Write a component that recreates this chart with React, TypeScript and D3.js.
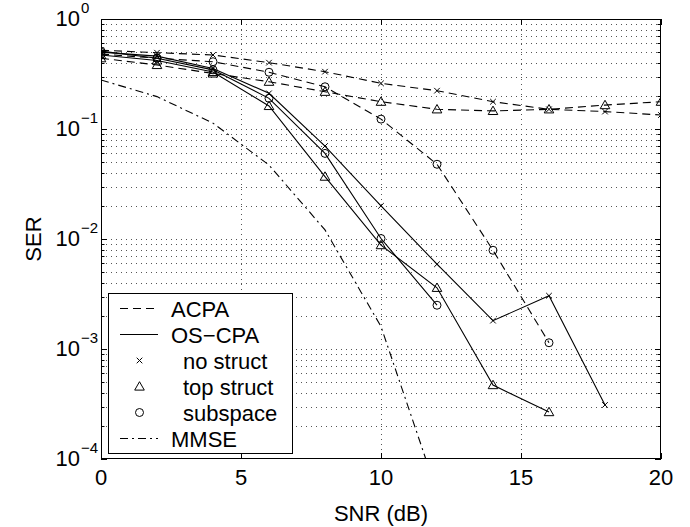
import React from 'react';
import * as d3 from 'd3';

// SNR grid (dB) used by all simulated curves
const snr = [0, 2, 4, 6, 8, 10, 12, 14, 16, 18, 20];

// ACPA (dashed)
const acpaNoStruct = [0.52, 0.494, 0.471, 0.401, 0.332, 0.26, 0.223, 0.177, 0.151, 0.144, 0.134];
const acpaTopStruct = [0.44, 0.382, 0.32, 0.269, 0.218, 0.177, 0.151, 0.146, 0.151, 0.165, 0.177];
const acpaSubspace = [0.48, 0.44, 0.409, 0.328, 0.242, 0.123, 0.0478, 0.0079, 0.00114];

// OS-CPA (solid)
const osNoStruct = [0.5, 0.46, 0.355, 0.211, 0.07, 0.02, 0.0059, 0.00181, 0.00305, 0.00031];
const osTopStruct = [0.47, 0.42, 0.33, 0.162, 0.0369, 0.0088, 0.0036, 0.00047, 0.000267];
const osSubspace = [0.51, 0.44, 0.345, 0.19, 0.06, 0.0101, 0.0025];

// MMSE bound (dash-dot)
const mmse = [0.279, 0.197, 0.113, 0.047, 0.0121, 0.0016, 0.00005];

const xTicks = [0, 5, 10, 15, 20];
const yExponents = [0, -1, -2, -3, -4];
const legendLabels = ['ACPA', 'OS\u2212CPA', 'no struct', 'top struct', 'subspace', 'MMSE'];

const W = 690;
const H = 527;
const margin = { top: 19, right: 29, bottom: 68, left: 101 };
const FONT = '"Liberation Sans", Arial, Helvetica, sans-serif';

type Marker = 'x' | 'tri' | 'circ';

const MarkerShape = ({ type, cx, cy }: { type: Marker; cx: number; cy: number }) => {
  if (type === 'x') {
    const s = 2.8;
    return (
      <path
        d={`M${cx - s},${cy - s}L${cx + s},${cy + s}M${cx - s},${cy + s}L${cx + s},${cy - s}`}
        stroke="#000"
        strokeWidth={1}
        fill="none"
      />
    );
  }
  if (type === 'tri') {
    const s = 4.8;
    return (
      <path
        d={`M${cx},${cy - s}L${cx + s},${cy + s * 0.75}L${cx - s},${cy + s * 0.75}Z`}
        stroke="#000"
        strokeWidth={1}
        fill="none"
      />
    );
  }
  return <circle cx={cx} cy={cy} r={4} stroke="#000" strokeWidth={1} fill="none" />;
};

const App: React.FC = () => {
  const iw = W - margin.left - margin.right;
  const ih = H - margin.top - margin.bottom;

  const x = d3.scaleLinear().domain([0, 20]).range([margin.left, margin.left + iw]);
  const y = d3.scaleLog().domain([1e-4, 1]).range([margin.top + ih, margin.top]);

  const line = d3
    .line<number>()
    .x((_, i) => x(snr[i]))
    .y((d) => y(d));

  const series: { data: number[]; dash: string | undefined; marker: Marker | null }[] = [
    { data: acpaNoStruct, dash: '8,5', marker: 'x' },
    { data: acpaTopStruct, dash: '8,5', marker: 'tri' },
    { data: acpaSubspace, dash: '8,5', marker: 'circ' },
    { data: osNoStruct, dash: undefined, marker: 'x' },
    { data: osTopStruct, dash: undefined, marker: 'tri' },
    { data: osSubspace, dash: undefined, marker: 'circ' },
    { data: mmse, dash: '8,4,2,4', marker: null },
  ];

  // minor log ticks (2..9 per decade)
  const minors: number[] = [];
  for (let e = -4; e < 0; e++) {
    for (let m = 2; m <= 9; m++) minors.push(m * Math.pow(10, e));
  }
  const majors = yExponents.map((e) => Math.pow(10, e));

  const x0 = margin.left;
  const x1 = margin.left + iw;
  const y0 = margin.top + ih;
  const y1 = margin.top;

  // legend
  const lg = { x: 108, y: 293, w: 184, h: 160 };
  const rowY = (i: number) => 308.5 + 26 * i;

  return (
    <svg
      width={W}
      height={H}
      style={{ position: 'absolute', left: 0, top: 0, background: '#fff' }}
      fontFamily={FONT}
    >
      <defs>
        <clipPath id="plotClip">
          <rect x={x0} y={y1} width={iw} height={ih} />
        </clipPath>
      </defs>

      {/* grid */}
      <g stroke="#555" strokeWidth={1} strokeDasharray="1,4" fill="none">
        {[...minors, ...majors.slice(1, -1)].map((v, i) => (
          <line key={'h' + i} x1={x0} x2={x1} y1={Math.round(y(v)) + 0.5} y2={Math.round(y(v)) + 0.5} />
        ))}
        {xTicks.slice(1, -1).map((t) => (
          <line key={'v' + t} x1={Math.round(x(t)) + 0.5} x2={Math.round(x(t)) + 0.5} y1={y1} y2={y0} />
        ))}
      </g>

      {/* ticks */}
      <g stroke="#000" strokeWidth={1}>
        {minors.map((v, i) => {
          const yy = Math.round(y(v)) + 0.5;
          return (
            <g key={'mt' + i}>
              <line x1={x0} x2={x0 + 3.5} y1={yy} y2={yy} />
              <line x1={x1} x2={x1 - 3.5} y1={yy} y2={yy} />
            </g>
          );
        })}
        {majors.map((v, i) => {
          const yy = Math.round(y(v)) + 0.5;
          return (
            <g key={'Mt' + i}>
              <line x1={x0} x2={x0 + 6} y1={yy} y2={yy} />
              <line x1={x1} x2={x1 - 6} y1={yy} y2={yy} />
            </g>
          );
        })}
        {xTicks.map((t) => {
          const xx = Math.round(x(t)) + 0.5;
          return (
            <g key={'xt' + t}>
              <line x1={xx} x2={xx} y1={y0} y2={y0 - 6} />
              <line x1={xx} x2={xx} y1={y1} y2={y1 + 6} />
            </g>
          );
        })}
      </g>

      {/* curves */}
      <g clipPath="url(#plotClip)">
        {series.map((s, i) => (
          <path
            key={'s' + i}
            d={line(s.data) || ''}
            fill="none"
            stroke="#000"
            strokeWidth={1.1}
            strokeDasharray={s.dash}
          />
        ))}
        {series.map((s, i) =>
          s.marker
            ? s.data.map((v, j) => (
                <MarkerShape key={`m${i}-${j}`} type={s.marker as Marker} cx={x(snr[j])} cy={y(v)} />
              ))
            : null
        )}
      </g>

      {/* axes box */}
      <rect x={x0 + 0.5} y={y1 + 0.5} width={iw - 1} height={ih - 1} fill="none" stroke="#000" strokeWidth={1} />

      {/* tick labels */}
      <g fontSize={22} fill="#000">
        {xTicks.map((t) => (
          <text key={'xl' + t} x={x(t)} y={y0 + 26} textAnchor="middle">
            {t}
          </text>
        ))}
        {yExponents.map((e) => {
          const yy = y(Math.pow(10, e)) + 7;
          return (
            <g key={'yl' + e}>
              <text x={80} y={yy} textAnchor="end">
                10
              </text>
              <text x={81} y={yy - 13} fontSize={15} textAnchor="start">
                {e === 0 ? '0' : '\u2212' + Math.abs(e)}
              </text>
            </g>
          );
        })}
      </g>

      {/* axis titles */}
      <text x={(x0 + x1) / 2} y={521} textAnchor="middle" fontSize={22}>
        SNR (dB)
      </text>
      <text
        transform={`translate(41,${(y0 + y1) / 2}) rotate(-90)`}
        textAnchor="middle"
        fontSize={22}
      >
        SER
      </text>

      {/* legend */}
      <g>
        <rect x={lg.x + 0.5} y={lg.y + 0.5} width={lg.w} height={lg.h} fill="#fff" stroke="#000" strokeWidth={1} />
        <line x1={120} x2={158} y1={rowY(0)} y2={rowY(0)} stroke="#000" strokeDasharray="8,5" />
        <line x1={120} x2={158} y1={rowY(1)} y2={rowY(1)} stroke="#000" />
        <MarkerShape type="x" cx={139.5} cy={rowY(2)} />
        <MarkerShape type="tri" cx={139.5} cy={rowY(3)} />
        <MarkerShape type="circ" cx={139.5} cy={rowY(4)} />
        <line x1={120} x2={158} y1={rowY(5)} y2={rowY(5)} stroke="#000" strokeDasharray="8,4,2,4" />
        {legendLabels.map((l, i) => (
          <text
            key={'lt' + i}
            x={i >= 2 && i <= 4 ? 183 : 171}
            y={rowY(i) + 8}
            fontSize={22}
          >
            {l}
          </text>
        ))}
      </g>
    </svg>
  );
};

export default App;
